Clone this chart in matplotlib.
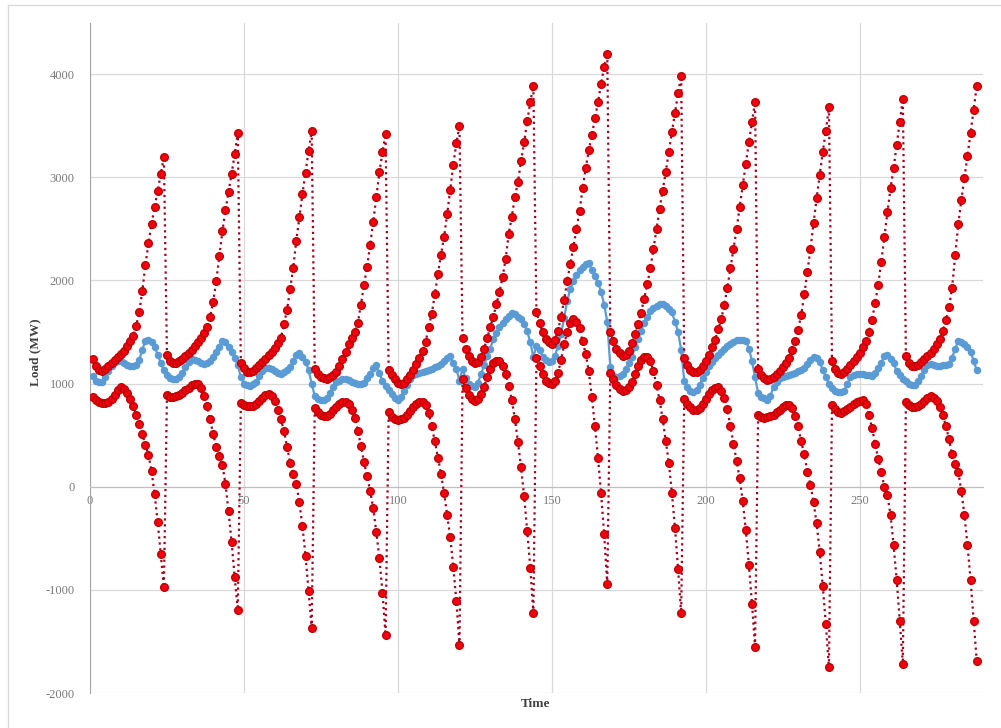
#!/usr/bin/env python
import matplotlib
matplotlib.use('Agg')
import matplotlib.pyplot as plt
from matplotlib.patches import Rectangle

plt.rcParams['font.family'] = 'serif'
plt.rcParams['font.serif'] = ['Liberation Serif', 'DejaVu Serif']
plt.rcParams['axes.unicode_minus'] = False

# Hourly load over 12 days (24 points per day)
hours = list(range(1, 289))

# Actual load (MW), blue line
actual_load = [
    1075, 1030, 1015, 1020, 1060, 1120, 1175, 1210, 1220, 1215, 1200, 1185, 1175, 1170, 1180, 1230, 1330, 1415, 1425, 1400, 1350, 1280, 1200, 1130,
    1080, 1050, 1040, 1040, 1060, 1100, 1160, 1210, 1235, 1230, 1215, 1200, 1190, 1195, 1220, 1260, 1310, 1350, 1415, 1400, 1350, 1310, 1250, 1180,
    1060, 1000, 985, 980, 995, 1020, 1070, 1120, 1150, 1155, 1140, 1120, 1100, 1093, 1110, 1135, 1160, 1220, 1280, 1300, 1260, 1210, 1130, 1000,
    880, 855, 845, 840, 865, 905, 970, 1015, 1030, 1040, 1045, 1035, 1020, 1005, 995, 995, 1010, 1050, 1090, 1150, 1180, 1100, 1030, 980,
    940, 900, 860, 840, 870, 930, 990, 1040, 1080, 1095, 1105, 1115, 1125, 1135, 1145, 1160, 1175, 1190, 1215, 1245, 1268, 1200, 1140, 1030,
    1140, 1050, 1000, 975, 965, 1010, 1090, 1180, 1270, 1340, 1430, 1490, 1550, 1590, 1630, 1660, 1686, 1675, 1650, 1622, 1580, 1510, 1400, 1260,
    1360, 1330, 1260, 1225, 1205, 1220, 1270, 1360, 1478, 1640, 1800, 1920, 1990, 2050, 2100, 2130, 2160, 2167, 2100, 2040, 1980, 1890, 1766, 1600,
    1160, 1075, 1060, 1075, 1093, 1140, 1200, 1260, 1350, 1430, 1510, 1590, 1650, 1700, 1735, 1755, 1770, 1770, 1750, 1720, 1690, 1600, 1500, 1330,
    1030, 970, 930, 917, 940, 990, 1050, 1110, 1170, 1210, 1245, 1280, 1310, 1333, 1360, 1385, 1405, 1420, 1425, 1420, 1413, 1340, 1221, 1060,
    910, 870, 860, 840, 880, 970, 1020, 1050, 1065, 1075, 1085, 1095, 1105, 1120, 1135, 1150, 1190, 1230, 1260, 1245, 1210, 1130, 1060, 1000,
    960, 930, 917, 920, 933, 1000, 1061, 1080, 1093, 1095, 1090, 1085, 1080, 1077, 1100, 1150, 1200, 1270, 1280, 1235, 1200, 1120, 1080, 1040,
    1025, 1000, 985, 990, 1030, 1070, 1130, 1180, 1190, 1182, 1175, 1173, 1178, 1185, 1192, 1250, 1340, 1410, 1405, 1385, 1350, 1310, 1220, 1130,
]

# Upper bound (MW), red dotted
upper_bound = [
    1235, 1170, 1135, 1125, 1140, 1170, 1200, 1230, 1255, 1285, 1320, 1360, 1410, 1460, 1560, 1690, 1900, 2150, 2360, 2550, 2715, 2870, 3036, 3200,
    1275, 1220, 1195, 1195, 1215, 1240, 1265, 1295, 1325, 1360, 1400, 1440, 1490, 1553, 1650, 1790, 1990, 2233, 2476, 2680, 2857, 3035, 3225, 3430,
    1195, 1150, 1115, 1110, 1125, 1150, 1180, 1210, 1240, 1275, 1310, 1345, 1390, 1445, 1573, 1718, 1913, 2123, 2382, 2615, 2840, 3045, 3255, 3445,
    1140, 1090, 1065, 1050, 1045, 1060, 1085, 1115, 1170, 1240, 1310, 1380, 1440, 1500, 1590, 1766, 1958, 2135, 2347, 2569, 2808, 3047, 3248, 3416,
    1135, 1080, 1045, 1010, 997, 1010, 1040, 1085, 1135, 1190, 1250, 1320, 1400, 1551, 1676, 1865, 2062, 2251, 2422, 2640, 2879, 3122, 3332, 3500,
    1440, 1340, 1265, 1215, 1195, 1210, 1260, 1340, 1440, 1547, 1647, 1773, 1886, 2033, 2209, 2452, 2619, 2808, 2955, 3156, 3340, 3541, 3730, 3885,
    1690, 1590, 1500, 1430, 1400, 1385, 1420, 1510, 1650, 1810, 1999, 2158, 2326, 2494, 2674, 2892, 3090, 3260, 3410, 3570, 3730, 3906, 4073, 4200,
    1500, 1410, 1340, 1300, 1270, 1280, 1320, 1390, 1480, 1580, 1689, 1823, 1961, 2117, 2305, 2494, 2695, 2871, 3051, 3248, 3437, 3625, 3814, 3982,
    1250, 1180, 1130, 1110, 1115, 1130, 1170, 1220, 1280, 1350, 1420, 1526, 1622, 1760, 1928, 2117, 2305, 2494, 2712, 2921, 3131, 3340, 3533, 3730,
    1140, 1085, 1050, 1035, 1040, 1065, 1090, 1120, 1157, 1200, 1253, 1330, 1413, 1521, 1668, 1865, 2083, 2305, 2557, 2795, 3018, 3248, 3449, 3680,
    1220, 1140, 1100, 1095, 1110, 1140, 1180, 1215, 1255, 1300, 1355, 1413, 1500, 1620, 1780, 1960, 2180, 2422, 2662, 2892, 3089, 3311, 3533, 3760,
    1270, 1195, 1175, 1170, 1185, 1210, 1240, 1270, 1300, 1340, 1380, 1430, 1509, 1614, 1739, 1928, 2242, 2544, 2779, 2997, 3206, 3428, 3655, 3885,
]

# Lower bound (MW), red dotted
lower_bound = [
    870, 840, 820, 810, 808, 820, 850, 890, 940, 968, 950, 910, 850, 780, 700, 610, 510, 400, 310, 150, -75, -345, -655, -975,
    885, 870, 868, 875, 890, 910, 935, 960, 985, 1000, 1000, 960, 883, 786, 657, 512, 389, 301, 214, 26, -239, -540, -874, -1195,
    810, 790, 780, 778, 785, 800, 830, 860, 890, 900, 880, 830, 745, 657, 537, 390, 235, 125, 30, -150, -380, -670, -1010, -1370,
    763, 720, 695, 683, 690, 710, 740, 775, 805, 825, 826, 800, 745, 671, 545, 398, 239, 105, -42, -210, -440, -692, -1027, -1438,
    720, 680, 660, 650, 655, 670, 700, 735, 770, 800, 820, 826, 790, 712, 587, 440, 281, 126, -63, -272, -490, -775, -1110, -1538,
    1040, 960, 890, 850, 835, 850, 895, 970, 1060, 1140, 1195, 1220, 1215, 1170, 1090, 980, 840, 660, 432, 189, -92, -427, -784, -1224,
    1250, 1170, 1090, 1030, 1005, 1000, 1030, 1100, 1230, 1380, 1500, 1590, 1622, 1600, 1538, 1412, 1287, 1119, 867, 587, 281, -63, -461, -943,
    1100, 1040, 990, 950, 930, 935, 965, 1020, 1090, 1170, 1230, 1255, 1257, 1215, 1119, 985, 838, 658, 448, 231, -63, -398, -796, -1228,
    850, 800, 770, 745, 740, 760, 800, 850, 895, 935, 960, 965, 930, 859, 754, 587, 419, 251, 84, -138, -419, -754, -1132, -1550,
    700, 675, 670, 675, 685, 700, 720, 745, 770, 790, 796, 760, 690, 587, 440, 314, 147, 21, -147, -356, -629, -964, -1333, -1752,
    790, 750, 720, 715, 730, 750, 775, 800, 820, 835, 837, 800, 700, 566, 419, 272, 147, 0, -84, -272, -566, -901, -1299, -1718,
    821, 790, 772, 770, 780, 805, 835, 860, 875, 860, 830, 772, 700, 587, 461, 314, 222, 147, -42, -272, -566, -901, -1299, -1689,
]

x_ticks = [0, 50, 100, 150, 200, 250]
y_ticks = [-2000, -1000, 0, 1000, 2000, 3000, 4000]

fig = plt.figure(figsize=(10.01, 7.28), dpi=100)
ax = fig.add_axes([0.0899, 0.048, 0.892, 0.921])

# Light frame around the chart area
fig.add_artist(Rectangle((8 / 1001, -0.01), 1.0, 1.01 - 5 / 728, transform=fig.transFigure,
                         fill=False, edgecolor='#D9D9D9', linewidth=1))

ax.plot(hours, actual_load, '-o', color='#5B9BD5', linewidth=1.6, markersize=4.4, zorder=3)
ax.plot(hours, upper_bound, ':o', color='#A0001C', markerfacecolor='#F00010', markeredgecolor='#C00000',
        linewidth=1.6, markersize=5.5, zorder=4)
ax.plot(hours, lower_bound, ':o', color='#A0001C', markerfacecolor='#F00010', markeredgecolor='#C00000',
        linewidth=1.6, markersize=5.5, zorder=4)

ax.set_xlim(0, 290)
ax.set_ylim(-2000, 4500)
ax.set_xticks(x_ticks)
ax.set_yticks(y_ticks)
ax.grid(True, color='#D9D9D9', linewidth=0.9, zorder=0)
ax.set_axisbelow(True)

for side in ['top', 'right']:
    ax.spines[side].set_visible(False)
ax.spines['bottom'].set_position(('data', 0))
ax.spines['bottom'].set_color('#BFBFBF')
ax.spines['left'].set_color('#A6A6A6')
ax.tick_params(axis='both', length=0, labelsize=9, labelcolor='#7A7A7A')
ax.tick_params(axis='x', pad=6)
ax.tick_params(axis='y', pad=11)

fig.text(0.0355, 1 - 352 / 728, 'Load (MW)', rotation=90, ha='center', va='center',
         fontsize=9.5, fontweight='bold', color='#404040')
fig.text(0.535, 1 - 704 / 728, 'Time', ha='center', va='center',
         fontsize=9.5, fontweight='bold', color='#404040')

plt.savefig('out.png', dpi=100)
